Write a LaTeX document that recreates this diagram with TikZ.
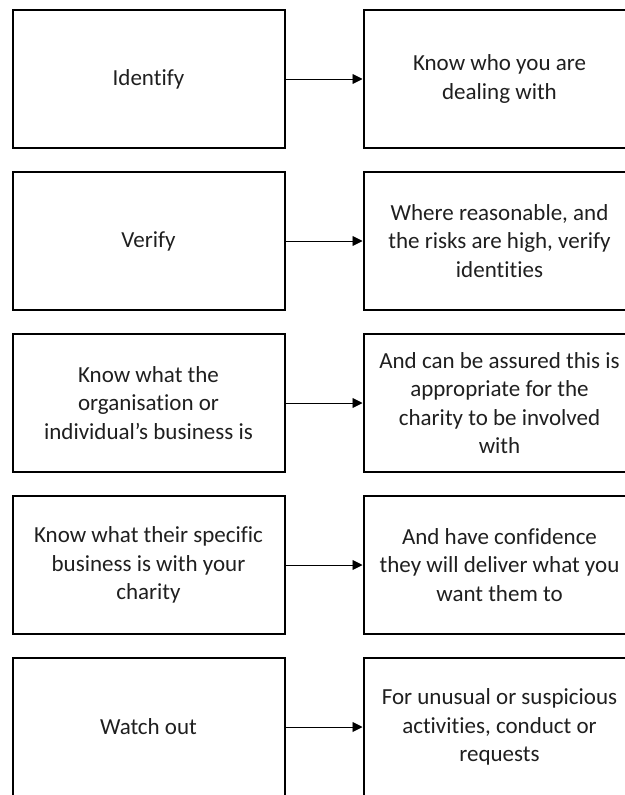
\documentclass[tikz,border=0pt]{standalone}
\usepackage{fontspec}
\setmainfont{Carlito}[Ligatures={NoCommon,TeX}]
\usetikzlibrary{arrows.meta}
\definecolor{ink}{HTML}{1F1F1F}
\begin{document}
\begin{tikzpicture}[x=1pt,y=-1pt,
  box/.style={draw=black, line width=2pt, minimum width=272pt, minimum height=138pt,
    inner sep=0pt, align=center, text=ink,
    font=\fontsize{23}{28.5}\selectfont},
  link/.style={draw=black, line width=0.9pt, -{Triangle[length=10pt,width=10pt]}}]
\useasboundingbox (0,0) rectangle (624,795);
% left column: what to do
\node[box] (l1) at (148.5,79)  {Identify};
\node[box] (l2) at (148.5,241) {Verify};
\node[box] (l3) at (148.5,403) {Know what the\\organisation or\\individual’s business is};
\node[box] (l4) at (148.5,565) {Know what their specific\\business is with your\\charity};
\node[box] (l5) at (148.5,727) {Watch out};
% right column: what that means
\node[box] (r1) at (499.5,79)  {Know who you are\\dealing with};
\node[box] (r2) at (499.5,241) {Where reasonable, and\\the risks are high, verify\\identities};
\node[box] (r3) at (499.5,403) {And can be assured this is\\appropriate for the\\charity to be involved\\with};
\node[box] (r4) at (499.5,565) {And have confidence\\they will deliver what you\\want them to};
\node[box] (r5) at (499.5,727) {For unusual or suspicious\\activities, conduct or\\requests};
% connectors
\foreach \i in {1,...,5} {
  \draw[link] (l\i.east) -- (r\i.west);
}
\end{tikzpicture}
\end{document}
